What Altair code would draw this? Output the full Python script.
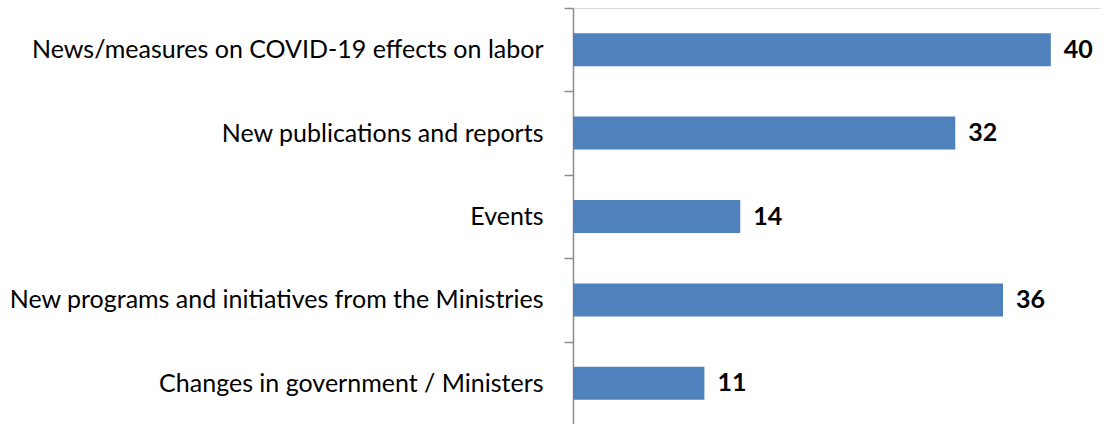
import altair as alt
import pandas as pd

categories = [
    "News/measures on COVID-19 effects on labor",
    "New publications and reports",
    "Events",
    "New programs and initiatives from the Ministries",
    "Changes in government / Ministers",
]
values = [40, 32, 14, 36, 11]

df = pd.DataFrame({"cat": categories, "val": values})

y = alt.Y("cat:N", sort=categories, title=None,
          scale=alt.Scale(paddingInner=0, paddingOuter=0),
          axis=alt.Axis(labelFont="Lato", labelFontSize=25, labelColor="#000000",
                        labelPadding=21, labelLimit=600, tickSize=9, tickColor="#8c8c8c",
                        domainColor="#8c8c8c", domainWidth=1.5, tickWidth=1.5,
                        tickBand="extent", labelAlign="right"))
x = alt.X("val:Q", title=None, scale=alt.Scale(domain=[0, 44.2], nice=False), axis=None)

bars = alt.Chart(df).mark_bar(color="#4f81bd", height=33).encode(x=x, y=y)
text = alt.Chart(df).mark_text(align="left", baseline="middle", dx=13, fontSize=25,
                               fontWeight="bold", font="Lato", color="#000000").encode(
    x=x, y=y, text="val:Q")

chart = (bars + text).properties(
    width=528, height=417,
    autosize=alt.AutoSizeParams(type="none"),
    padding={"left": 573, "top": 8, "right": 0, "bottom": 0},
).configure_view(stroke=None).configure(background="white")

chart.save("out.html", embed_options={"renderer": "svg", "actions": False})
